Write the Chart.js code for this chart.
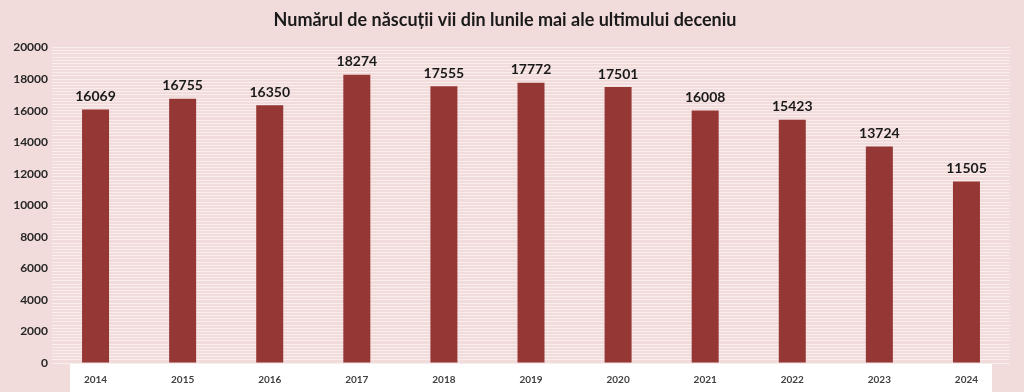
<!DOCTYPE html>
<html>
<head>
<meta charset="utf-8">
<script src="https://cdn.jsdelivr.net/npm/chart.js@4/dist/chart.umd.min.js"></script>
<style>
  html,body{margin:0;padding:0;background:#f2dcdb;}
  #wrap{width:1024px;height:392px;position:relative;}
</style>
</head>
<body>
<div id="wrap"><canvas id="c" width="1024" height="392"></canvas></div>
<script>
const titleText = 'Numărul de născuții vii din lunile mai ale ultimului deceniu';
const years = ['2014','2015','2016','2017','2018','2019','2020','2021','2022','2023','2024'];
const births = [16069, 16755, 16350, 18274, 17555, 17772, 17501, 16008, 15423, 13724, 11505];
const yTicks = [0, 2000, 4000, 6000, 8000, 10000, 12000, 14000, 16000, 18000, 20000];

const FONT = 'Lato, "Open Sans", "Liberation Sans", sans-serif';

const bgPlugin = {
  id: 'bg',
  beforeDraw(chart) {
    const {ctx, chartArea} = chart;
    ctx.save();
    ctx.fillStyle = '#f2dcdb';
    ctx.fillRect(0, 0, chart.width, chart.height);
    ctx.fillStyle = '#ffffff';
    ctx.fillRect(chartArea.left + 18, chartArea.bottom + 1, chartArea.right - chartArea.left - 36, chart.height - chartArea.bottom - 1);
    ctx.restore();
  }
};

const labelPlugin = {
  id: 'vals',
  afterDatasetsDraw(chart) {
    const {ctx} = chart;
    const meta = chart.getDatasetMeta(0);
    ctx.save();
    ctx.font = 'bold 14px ' + FONT;
    ctx.fillStyle = '#1a1a1a';
    ctx.textAlign = 'center';
    ctx.textBaseline = 'bottom';
    meta.data.forEach((bar, i) => {
      ctx.fillText(String(chart.data.datasets[0].data[i]), bar.x, bar.y - 6);
    });
    ctx.restore();
  }
};

new Chart(document.getElementById('c'), {
  type: 'bar',
  data: {
    labels: years,
    datasets: [{
      data: births,
      backgroundColor: '#953735',
      borderWidth: 0,
      barPercentage: 0.62,
      categoryPercentage: 0.5
    }]
  },
  options: {
    responsive: false,
    animation: false,
    layout: { padding: { left: 0, right: 14, top: 9, bottom: 0 } },
    plugins: {
      legend: { display: false },
      tooltip: { enabled: false },
      title: {
        display: true,
        text: titleText,
        color: '#1a1a1a',
        font: { family: FONT, size: 18, weight: 'bold' },
        padding: { top: 0, bottom: 17 }
      }
    },
    scales: {
      x: {
        grid: { display: false },
        border: { display: false },
        ticks: { color: '#404040', font: { family: FONT, size: 10, weight: 'bold' }, padding: 3, maxRotation: 0 },
        afterFit(s) { s.height = 29; }
      },
      yMinor: {
        position: 'left',
        min: 0, max: 20000,
        ticks: { display: false, stepSize: 200 },
        grid: { color: 'rgba(255,255,255,0.5)', lineWidth: 1, drawTicks: false },
        border: { display: false },
        afterFit(s) { s.width = 0; }
      },
      y: {
        position: 'left',
        min: 0, max: 20000,
        afterBuildTicks(s) { s.ticks = yTicks.map(v => ({value: v})); },
        ticks: {
          color: '#262626', font: { family: FONT, size: 12, weight: 'bold' }, padding: 4,
          callback: (v) => String(v)
        },
        grid: { display: false, drawTicks: false },
        border: { display: false },
        afterFit(s) { s.width = 52; }
      }
    }
  },
  plugins: [bgPlugin, labelPlugin]
});
</script>
</body>
</html>
